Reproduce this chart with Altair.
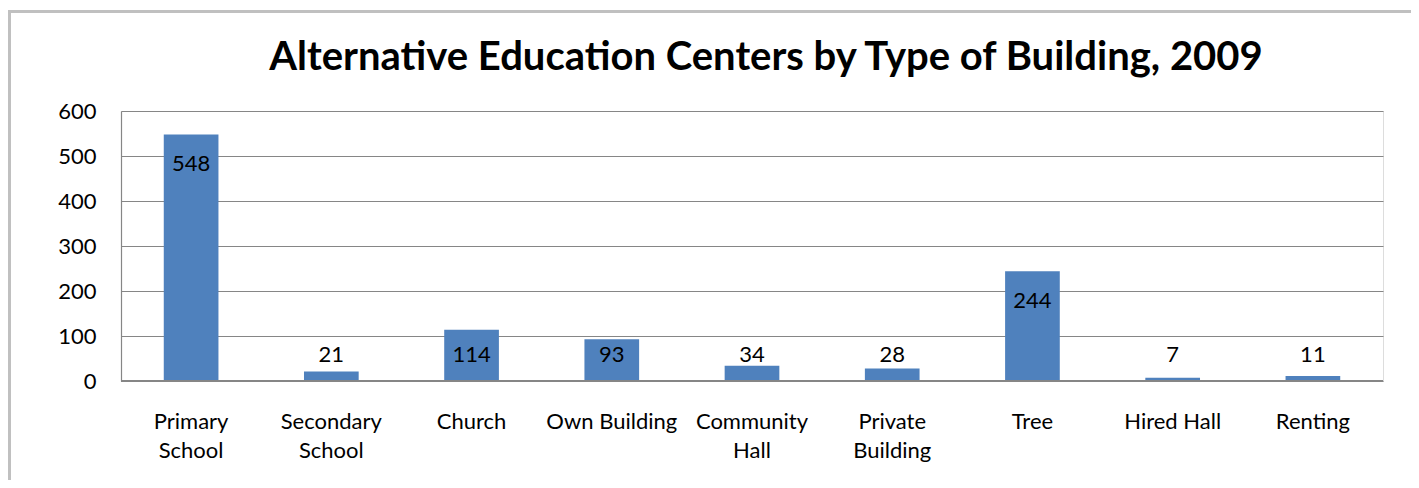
import altair as alt
import pandas as pd

categories = ["Primary\nSchool", "Secondary\nSchool", "Church", "Own Building",
              "Community\nHall", "Private\nBuilding", "Tree", "Hired Hall", "Renting"]
values = [548, 21, 114, 93, 34, 28, 244, 7, 11]
y_ticks = [0, 100, 200, 300, 400, 500, 600]

df = pd.DataFrame({"category": categories, "value": values})

FONT = "Lato"
GRID = "#868686"

x_enc = alt.X("category:N", sort=categories, title=None,
              scale=alt.Scale(paddingInner=0.61, paddingOuter=0.305),
              axis=alt.Axis(labelAngle=0, ticks=False, domain=False,
                            labelExpr="split(datum.label, '\\n')",
                            labelFontSize=22, labelFont=FONT, labelColor="#000000",
                            labelPadding=30, labelLineHeight=29,
                            labelBaseline="top"))

bars = alt.Chart(df).mark_bar(color="#4F81BD").encode(
    x=x_enc,
    y=alt.Y("value:Q", title=None,
            scale=alt.Scale(domain=[0, 600], nice=False),
            axis=alt.Axis(values=y_ticks, ticks=False, grid=True, gridColor=GRID,
                          gridWidth=1.2, domainColor=GRID, domainWidth=1.2,
                          labelFontSize=22, labelFont=FONT, labelColor="#000000",
                          labelPadding=25)),
)

labels = alt.Chart(df).transform_calculate(
    pos="max(datum.value - 66, 58)"
).mark_text(font=FONT, fontSize=22, color="#000000", baseline="middle").encode(
    x=alt.X("category:N", sort=categories),
    y=alt.Y("pos:Q"),
    text=alt.Text("value:Q"),
)

bottom = alt.Chart(df).mark_rule(color=GRID, strokeWidth=1.5).encode(
    y=alt.datum(0), x=alt.value(0), x2=alt.value(1262)
)

border = alt.Chart(df).mark_rect(fill=None, stroke="#C0C0C0", strokeWidth=3).encode(
    x=alt.value(-111.5), y=alt.value(-99.5), x2=alt.value(1330), y2=alt.value(420)
)

chart = alt.layer(border, bars, bottom, labels).properties(
    width=1262, height=270,
    autosize=alt.AutoSizeParams(type="none"),
    padding={"left": 113, "top": 103, "right": 28, "bottom": 99},
    title=alt.TitleParams("Alternative Education Centers by Type of Building, 2009",
                          font=FONT, fontSize=40, fontWeight="bold", color="#000000",
                          anchor="middle", frame="group", baseline="alphabetic",
                          offset=-100, dx=14),
).configure_view(stroke=None).configure(background="white")

chart.save("out.html", embed_options={"renderer": "svg", "actions": False})
